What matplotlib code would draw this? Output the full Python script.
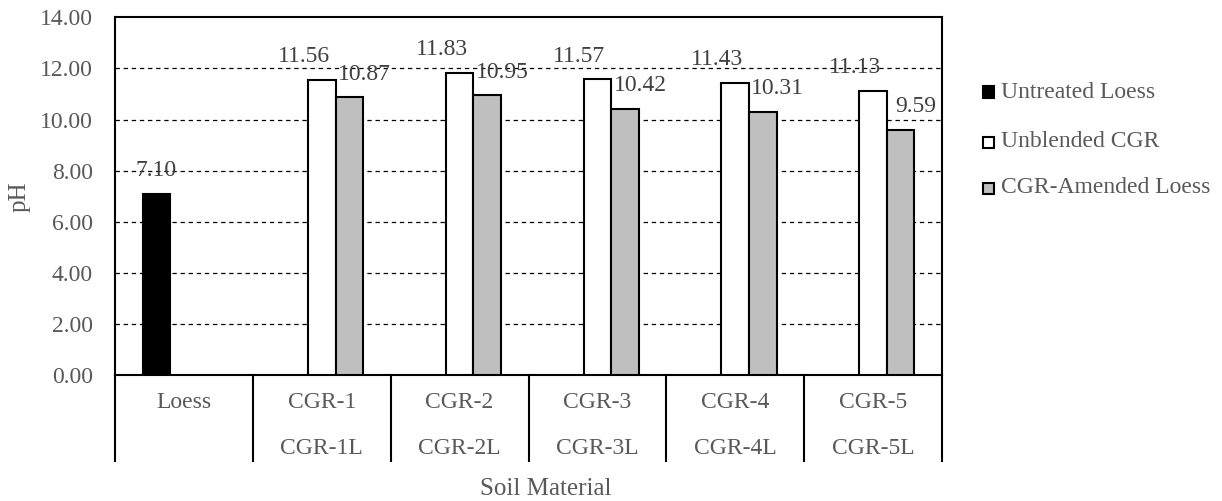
import numpy as np
import matplotlib
matplotlib.use("Agg")
import matplotlib.pyplot as plt
from matplotlib.patches import Rectangle

# data
categories = ["Loess", "CGR-1", "CGR-2", "CGR-3", "CGR-4", "CGR-5"]
categories_2 = ["", "CGR-1L", "CGR-2L", "CGR-3L", "CGR-4L", "CGR-5L"]
series_names = ["Untreated Loess", "Unblended CGR", "CGR-Amended Loess"]
untreated = [7.10, np.nan, np.nan, np.nan, np.nan, np.nan]
unblended = [np.nan, 11.56, 11.83, 11.57, 11.43, 11.13]
amended = [np.nan, 10.87, 10.95, 10.42, 10.31, 9.59]
y_ticks = [0, 2, 4, 6, 8, 10, 12, 14]

W, H = 1222, 501
plt.rcParams["font.family"] = ["Liberation Serif", "DejaVu Serif"]
FS = 17
TXT = "#595959"
LBL = "#404040"

fig = plt.figure(figsize=(W / 100, H / 100), dpi=100)
x0, x1, y_top, y_bot = 115, 942, 17.3, 375
ax = fig.add_axes([x0 / W, 1 - y_bot / H, (x1 - x0) / W, (y_bot - y_top) / H])

def py(p):
    # pixel row -> axes fraction (y)
    return (y_bot - p) / (y_bot - y_top)

n = len(categories)
x = np.arange(n) + 0.5
bw = 0.2
series = [untreated, unblended, amended]
colors = ["black", "white", "#BFBFBF"]
offs = [-bw, 0, bw]
lab_dx = [0, -18, 15]

for vals, c, o, dx in zip(series, colors, offs, lab_dx):
    vals = np.array(vals, dtype=float)
    ax.bar(x + o, vals, width=bw, color=c, edgecolor="black", linewidth=1.5, zorder=3)
    for xi, v in zip(x + o, vals):
        if np.isnan(v):
            continue
        ax.annotate(f"{v:.2f}", (xi, v), xytext=(dx, 23), textcoords="offset pixels",
                    ha="center", va="center", fontsize=FS, color=LBL, zorder=4)

ax.set_xlim(0, n)
ax.set_ylim(0, 14)
ax.set_yticks(y_ticks)
ax.set_yticklabels([f"{t:.2f}" for t in y_ticks], fontsize=FS, color=TXT)
ax.tick_params(axis="y", length=0, pad=16)
ax.set_xticks([])
for t in y_ticks[1:-1]:
    ax.axhline(t, color="black", lw=0.9, ls=(0, (3.5, 3)), zorder=1)
for s in ax.spines.values():
    s.set_linewidth(1.5)
    s.set_color("black")

# category table below the axis
tr = ax.get_xaxis_transform()
for b in range(n + 1):
    ax.plot([b, b], [0, py(461)], transform=tr, color="black", lw=1.5, clip_on=False)
for i in range(n):
    ax.text(x[i], py(403), categories[i], transform=tr, ha="center", va="center",
            fontsize=FS, color=TXT)
    ax.text(x[i], py(448), categories_2[i], transform=tr, ha="center", va="center",
            fontsize=FS, color=TXT)

fig.text(546 / W, 1 - 489 / H, "Soil Material", ha="center", va="center", fontsize=18, color=TXT)
fig.text(20 / W, 1 - 197 / H, "pH", ha="center", va="center", rotation=90, fontsize=18, color=TXT)

# legend
leg_y = [92, 142, 188]
for name, c, yy in zip(series_names, colors, leg_y):
    fig.add_artist(Rectangle((983 / W, 1 - (yy + 5.5) / H), 11 / W, 11 / H, transform=fig.transFigure,
                             facecolor=c, edgecolor="black", linewidth=1.5))
    fig.text(1001 / W, 1 - yy / H, name, ha="left", va="center", fontsize=FS, color=TXT)

fig.savefig("out.png", dpi=100)
